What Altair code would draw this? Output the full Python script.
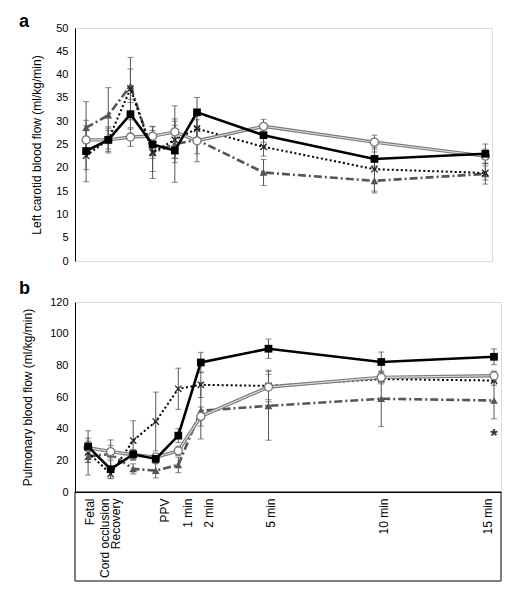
import altair as alt
import pandas as pd

# ---------------- data ----------------
times = [-3, -2, -1, 0, 1, 2, 5, 10, 15]
tick_labels = ["Fetal", "Cord occlusion", "Recovery", "PPV", "1 min", "2 min", "5 min", "10 min", "15 min"]
label_positions = [-2.94, -2.28, -1.79, 0.40, 1.39, 2.35, 5.08, 10.11, 14.69]

# panel a: left carotid blood flow
a_square = [23.6, 26.0, 31.5, 25.0, 23.7, 31.9, 27.0, 21.9, 23.0]
a_square_err = [6.6, 2.8, 3.2, 3.0, 6.8, 3.2, 1.5, 1.5, 2.1]
a_circle = [26.0, 26.0, 26.6, 26.8, 27.7, 25.8, 28.9, 25.5, 22.5]
a_circle_err = [3.0, 2.0, 2.0, 2.0, 5.6, 4.5, 1.5, 1.5, 1.5]
a_cross = [22.6, 26.0, 37.0, 23.3, 26.0, 28.4, 24.5, 19.7, 18.9]
a_cross_err = [3.0, 2.5, 6.7, 5.6, 4.0, 3.0, 2.0, 4.7, 1.5]
a_tri = [28.6, 31.3, 37.6, 23.2, 25.1, 26.0, 19.0, 17.2, 18.7]
a_tri_err = [5.6, 5.9, 3.6, 4.0, 4.0, 3.0, 2.8, 2.6, 2.2]

# panel b: pulmonary blood flow
b_square = [28.7, 14.4, 23.8, 20.9, 35.6, 81.8, 90.5, 82.1, 85.4]
b_square_err = [10.0, 5.7, 3.0, 3.0, 4.4, 6.4, 6.1, 6.3, 5.0]
b_circle = [28.0, 25.5, 23.5, 22.0, 26.0, 47.7, 66.3, 72.4, 73.4]
b_circle_err = [4.0, 4.0, 3.0, 2.0, 3.0, 6.0, 8.0, 3.0, 3.0]
b_cross = [25.0, 11.4, 32.5, 44.5, 65.2, 67.7, 67.0, 71.3, 70.4]
b_cross_err = [6.0, 3.0, 12.5, 18.6, 13.0, 8.0, 10.0, 3.0, 3.0]
b_tri = [22.4, 24.0, 14.6, 13.5, 17.1, 51.3, 54.4, 58.9, 57.8]
b_tri_err = [11.6, 8.9, 3.2, 4.6, 4.9, 17.8, 21.7, 17.6, 11.6]

star_time = [15]
star_value = [38.8]
star_text = ["*"]

FONT = "Liberation Sans"
X_SHAPE = "M-1,-1L1,1M-1,1L1,-1"

label_expr = ""
for pos, lab in zip(label_positions, tick_labels):
    label_expr += f"datum.value == {pos} ? '{lab}' : "
label_expr += "''"


def make_panel(series, letter, ymax, ystep, ytitle, width, height, xdom, show_x, title_pad, letter_y):
    xscale = alt.Scale(domain=xdom, nice=False, zero=False)
    yscale = alt.Scale(domain=[0, ymax], nice=False, zero=False)
    if show_x:
        xaxis = alt.Axis(values=label_positions, labelExpr=label_expr, labelAngle=-90,
                         ticks=False, grid=False, domain=True, domainColor="black",
                         domainWidth=1, labelFontSize=12, labelPadding=6, labelColor="black",
                         labelOverlap=False, labelFlush=False, labelBound=False, title=None,
                         labelFont=FONT)
    else:
        xaxis = None
    yaxis = alt.Axis(values=list(range(0, ymax + 1, ystep)), ticks=False, grid=False,
                     domain=True, domainColor="black", domainWidth=1, labelFontSize=11,
                     labelPadding=7, labelColor="black", titleFontSize=12,
                     titleFontWeight="normal", titleColor="black", titlePadding=title_pad,
                     labelFont=FONT, titleFont=FONT)

    def X(field):
        return alt.X(field, type="quantitative", scale=xscale, axis=xaxis, title=None)

    def Y(field):
        return alt.Y(field, type="quantitative", scale=yscale, axis=yaxis, title=ytitle)

    layers = []
    # error bars
    err_rows = []
    cap_rows = []
    for name, (vals, errs) in series.items():
        for t, v, e in zip(times, vals, errs):
            err_rows.append({"t": t, "lo": v - e, "hi": v + e})
            cap_rows.append({"t": t, "c": v - e})
            cap_rows.append({"t": t, "c": v + e})
    err_df = pd.DataFrame(err_rows)
    cap_df = pd.DataFrame(cap_rows)
    layers.append(alt.Chart(err_df).mark_rule(color="#555555", strokeWidth=1).encode(
        x=X("t"), y=Y("lo"), y2="hi"))
    layers.append(alt.Chart(cap_df).mark_tick(color="#555555", thickness=1, size=6,
                                                orient="horizontal").encode(x=X("t"), y=Y("c")))

    styles = {
        "tri": dict(line=[dict(color="#555555", strokeWidth=2.6, strokeDash=[8, 3, 2, 3])],
                    point=dict(shape="triangle-up", filled=True, color="#555555", size=60)),
        "cross": dict(line=[dict(color="black", strokeWidth=2, strokeDash=[2, 2.5])],
                      point=dict(shape=X_SHAPE, filled=False, color="#222222", size=40, strokeWidth=1.3)),
        "circle": dict(line=[dict(color="#7a7a7a", strokeWidth=3.4), dict(color="#dddddd", strokeWidth=1.1)],
                       point=dict(shape="circle", filled=True, fill="white", stroke="#777777",
                                  strokeWidth=1.3, size=65)),
        "square": dict(line=[dict(color="black", strokeWidth=2.6)],
                       point=dict(shape="square", filled=True, color="black", size=60)),
    }
    for name in ["tri", "cross", "circle", "square"]:
        vals = series[name][0]
        df = pd.DataFrame({"t": times, "v": vals})
        st = styles[name]
        for ls in st["line"]:
            layers.append(alt.Chart(df).mark_line(**ls).encode(x=X("t"), y=Y("v")))
        layers.append(alt.Chart(df).mark_point(opacity=1, **st["point"]).encode(x=X("t"), y=Y("v")))

    # panel letter
    layers.append(alt.Chart(pd.DataFrame({"s": [letter]})).mark_text(
        font=FONT, fontSize=18, fontWeight="bold", align="left", baseline="alphabetic",
        color="black").encode(text="s:N", x=alt.value(-56), y=alt.value(letter_y)))

    if show_x:
        star_df = pd.DataFrame({"t": star_time, "v": star_value, "s": star_text})
        layers.append(alt.Chart(star_df).mark_text(font=FONT, fontSize=19, fontWeight="bold",
                                                   color="#333333", baseline="middle", dy=5).encode(
            x=X("t"), y=Y("v"), text="s:N"))
        layers.append(alt.Chart(pd.DataFrame({"k": [0]})).mark_rect(
            filled=False, stroke="black", strokeWidth=1).encode(
            x=alt.value(0), x2=alt.value(width), y=alt.value(height), y2=alt.value(height + 89)))

    return alt.layer(*layers).properties(width=width, height=height)


panel_a = make_panel(
    {"square": (a_square, a_square_err), "circle": (a_circle, a_circle_err),
     "cross": (a_cross, a_cross_err), "tri": (a_tri, a_tri_err)},
    "a", 50, 5, "Left carotid blood flow (ml/kg/min)", 417, 233, [-3.5, 15.3], False, 12, -1)

panel_b = make_panel(
    {"square": (b_square, b_square_err), "circle": (b_circle, b_circle_err),
     "cross": (b_cross, b_cross_err), "tri": (b_tri, b_tri_err)},
    "b", 120, 20, "Pulmonary blood flow (ml/kg/min)", 426, 190, [-3.58, 15.31], True, 15, -8)

chart = alt.vconcat(panel_a, panel_b, spacing=41, bounds="flush").properties(
    padding={"left": 10, "top": 4, "right": 5, "bottom": 5}
).configure_view(stroke=None).configure(font=FONT, background="white")

chart.save("out.html", embed_options={"renderer": "svg", "actions": False})
